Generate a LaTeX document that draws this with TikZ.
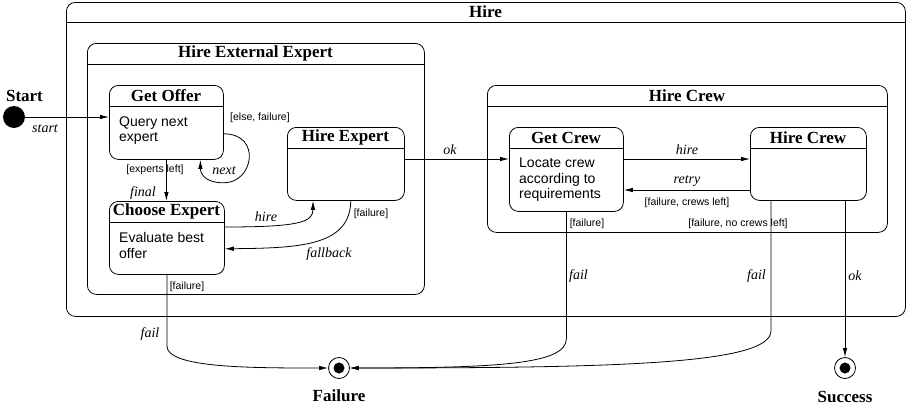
\documentclass[tikz,border=0pt]{standalone}
\usepackage{fontspec}
\setmainfont{Liberation Serif}
\setsansfont{Liberation Sans}
\usetikzlibrary{arrows.meta,calc}
\begin{document}
\begin{tikzpicture}[x=1pt,y=-1pt,
  box/.style={draw, line width=0.8pt, rounded corners=9pt, inner sep=0pt, anchor=north west},
  ttl/.style={font=\fontsize{17}{18}\selectfont\bfseries, inner sep=0pt},
  body/.style={font=\sffamily\fontsize{14}{15.5}\selectfont, align=left, anchor=west, inner sep=0pt},
  grd/.style={font=\sffamily\fontsize{10.5}{12}\selectfont, inner sep=0pt},
  lbl/.style={font=\fontsize{14}{15}\selectfont\itshape, inner sep=0pt},
  tr/.style={line width=0.8pt, -{Latex[length=9pt,width=4.5pt]}},
  ln/.style={line width=0.8pt}]
\useasboundingbox (0,0) rectangle (909,407);

% outer Hire
\node[box, minimum width=839pt, minimum height=314pt] (hire) at (66,2) {};
\draw[ln] (hire.west |- 0,22) -- (hire.east |- 0,22);
\node[ttl] (hiret) at (485.5,12) {Hire};

% Hire External Expert
\node[box, minimum width=337pt, minimum height=251pt] (hee) at (87,43) {};
\draw[ln] (hee.west |- 0,64) -- (hee.east |- 0,64);
\node[ttl] (heet) at (255.5,53.5) {Hire External Expert};

% Get Offer
\node[box, minimum width=114pt, minimum height=74pt] (getoffer) at (109,85) {};
\draw[ln] (getoffer.west |- 0,106) -- (getoffer.east |- 0,106);
\node[ttl] (getoffert) at (166,95.5) {Get Offer};
\node[body] (getofferb) at (119,130.5) {Query next\\expert};

% Choose Expert
\node[box, minimum width=115pt, minimum height=73pt] (chooseexpert) at (109,201) {};
\draw[ln] (chooseexpert.west |- 0,222) -- (chooseexpert.east |- 0,222);
\node[ttl] (chooseexpertt) at (166.5,211.5) {Choose Expert};
\node[body] (chooseexpertb) at (119,245.5) {Evaluate best\\offer};

% Hire Expert
\node[box, minimum width=117pt, minimum height=73pt] (hireexpert) at (287,127) {};
\draw[ln] (hireexpert.west |- 0,148) -- (hireexpert.east |- 0,148);
\node[ttl] (hireexpertt) at (345.5,137.5) {Hire Expert};

% Hire Crew container
\node[box, minimum width=400pt, minimum height=147pt] (hcc) at (487,85) {};
\draw[ln] (hcc.west |- 0,106) -- (hcc.east |- 0,106);
\node[ttl] (hcct) at (687,96) {Hire Crew};

% Get Crew
\node[box, minimum width=114pt, minimum height=84pt] (getcrew) at (509,127) {};
\draw[ln] (getcrew.west |- 0,148) -- (getcrew.east |- 0,148);
\node[ttl] (getcrewt) at (566,137.5) {Get Crew};
\node[body] (getcrewb) at (519,180) {Locate crew\\according to\\requirements};

% Hire Crew inner
\node[box, minimum width=116pt, minimum height=73pt] (hirecrew) at (750,127) {};
\draw[ln] (hirecrew.west |- 0,148) -- (hirecrew.east |- 0,148);
\node[ttl] (hirecrewt) at (808,137.5) {Hire Crew};

% pseudo states
\node[circle, fill, minimum size=22pt, inner sep=0pt] (start) at (14,117) {};
\node[ttl] (startt) at (24.5,95.5) {Start};
\node[circle, draw, line width=0.8pt, minimum size=21pt, inner sep=0pt] (failure) at (339,368) {};
\node[circle, fill, minimum size=11pt, inner sep=0pt] (failuredot) at (failure) {};
\node[ttl] (failuret) at (339,395.5) {Failure};
\node[circle, draw, line width=0.8pt, minimum size=21pt, inner sep=0pt] (success) at (845,368) {};
\node[circle, fill, minimum size=11pt, inner sep=0pt] (successdot) at (success) {};
\node[ttl] (successt) at (845,396.5) {Success};

% transitions
\draw[tr] (start.east) -- (start.east -| getoffer.west);
\node[lbl] (startl) at (45,129) {start};

\draw[tr] (getoffer.south) -- (getoffer.south |- chooseexpert.north);
\node[grd] (expl) at (155,170) {[experts left]};
\node[lbl] (finall) at (143,193) {final};

\draw[tr] ($(getoffer.south east)+(0,-26)$) .. controls ($(getoffer.south east)+(38,-26)$) and ($(getoffer.south east)+(30,23)$) .. ($(getoffer.south east)+(0,23)$) .. controls ($(getoffer.south east)+(-20,23)$) and ($(getoffer.south)+(34,13)$) .. ($(getoffer.south)+(34,0)$);
\node[grd] (elsel) at (260,118) {[else, failure]};
\node[lbl] (nextl) at (224,171) {next};

\draw[tr] ($(chooseexpert.north east)+(0,26)$) .. controls (300,227) and (313,222) .. ($(hireexpert.south west)+(26,0)$);
\node[lbl] (hirel1) at (266,217) {hire};

\draw[tr] ($(hireexpert.south east)+(-54,0)$) .. controls (350,246) and (300,248) .. ($(chooseexpert.south east)+(0,-26)$);
\node[grd] (failurel1) at (371,214) {[failure]};
\node[lbl] (fallbackl) at (329,254) {fallback};

\draw[tr] ($(hireexpert.north east)+(0,32)$) -- ($(getcrew.north west)+(0,32)$);
\node[lbl] (okl1) at (450,150) {ok};

\draw[tr] ($(getcrew.north east)+(0,32)$) -- ($(hirecrew.north west)+(0,32)$);
\node[lbl] (hirel2) at (687,150) {hire};
\draw[tr] ($(hirecrew.north west)+(0,63)$) -- ($(getcrew.north east)+(0,63)$);
\node[lbl] (retryl) at (687,181) {retry};
\node[grd] (crewsl) at (687,203) {[failure, crews left]};

\draw[tr] (getcrew.south) -- ($(getcrew.south)+(0,127)$) .. controls (566,364) and (500,368) .. (failure.east);
\node[grd] (failurel2) at (587,224) {[failure]};
\node[lbl, anchor=west] (faill2) at (569,276) {fail};

\draw[tr] ($(hirecrew.south west)+(21,0)$) -- ($(hirecrew.south west)+(21,130)$) .. controls (771,364) and (620,368) .. (failure.east);
\node[grd] (nocrewsl) at (738,224) {[failure, no crews left]};
\node[lbl, anchor=east] (faill3) at (766,276) {fail};

\draw[tr] (success.north |- hirecrew.south) -- (success.north);
\node[lbl] (okl2) at (855,276) {ok};

\draw[tr] (chooseexpert.south) -- ($(chooseexpert.south)+(0,71)$) .. controls (166.5,368) and (250,368) .. (failure.west);
\node[grd] (failurel3) at (187,287) {[failure]};
\node[lbl] (faill1) at (150,334) {fail};
\end{tikzpicture}
\end{document}
